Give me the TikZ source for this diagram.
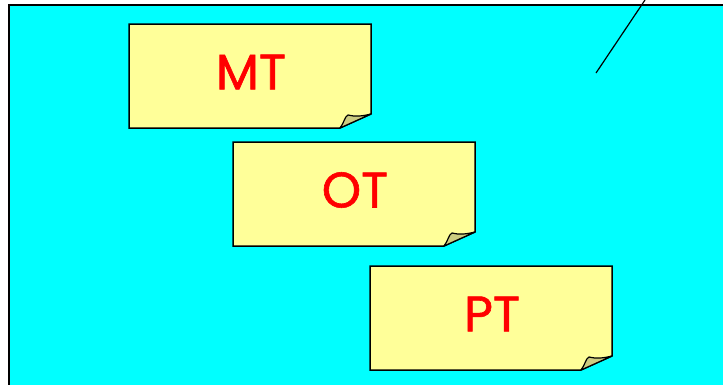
\documentclass[tikz,border=0pt]{standalone}
\usepackage{fontspec}
\setmainfont{Poppins}
\newfontfamily\notefont[FakeBold=1.2]{Poppins}
\definecolor{bgcyan}{HTML}{00FFFF}
\definecolor{notey}{HTML}{FFFF99}
\definecolor{flapc}{HTML}{CCCC80}
\definecolor{txtred}{HTML}{FF0000}
\tikzset{
  notebody/.style={fill=notey, draw=black, line width=1.5pt, line join=miter},
  noteflap/.style={fill=flapc, draw=black, line width=1.2pt, line join=round},
  notetext/.style={text=txtred, font=\notefont\fontsize{50}{56}\selectfont, inner sep=0pt, anchor=center},
  frame/.style={fill=bgcyan, draw=black, line width=1.6pt},
}
% #1 name, #2 left, #3 top, #4 label
\newcommand\stickynote[4]{%
  \begin{scope}[shift={(#2,#3)}]
    \path[notebody] (0,0) -- (242,0) -- (242,90) -- (211,104) -- (0,104) -- cycle;
    \path[noteflap] (211,104) .. controls (215,99) and (216,92) .. (219,91)
       .. controls (226,93) and (234,92) .. (242,90) -- cycle;
    \node[notetext] (#1) at (122,48) {#4};
  \end{scope}}
\begin{document}
\begin{tikzpicture}[x=1pt,y=-1pt]
\useasboundingbox (0,0) rectangle (723,384);
\path[frame] (9,5) rectangle (740,400);
\coordinate (lineA) at (596,73);
\coordinate (lineB) at (645,0);
\draw[line width=1.2pt] (lineA) -- (lineB);
\stickynote{mt}{129}{24}{MT}
\stickynote{ot}{233}{142}{OT}
\stickynote{pt}{370}{266}{PT}
\end{tikzpicture}
\end{document}
